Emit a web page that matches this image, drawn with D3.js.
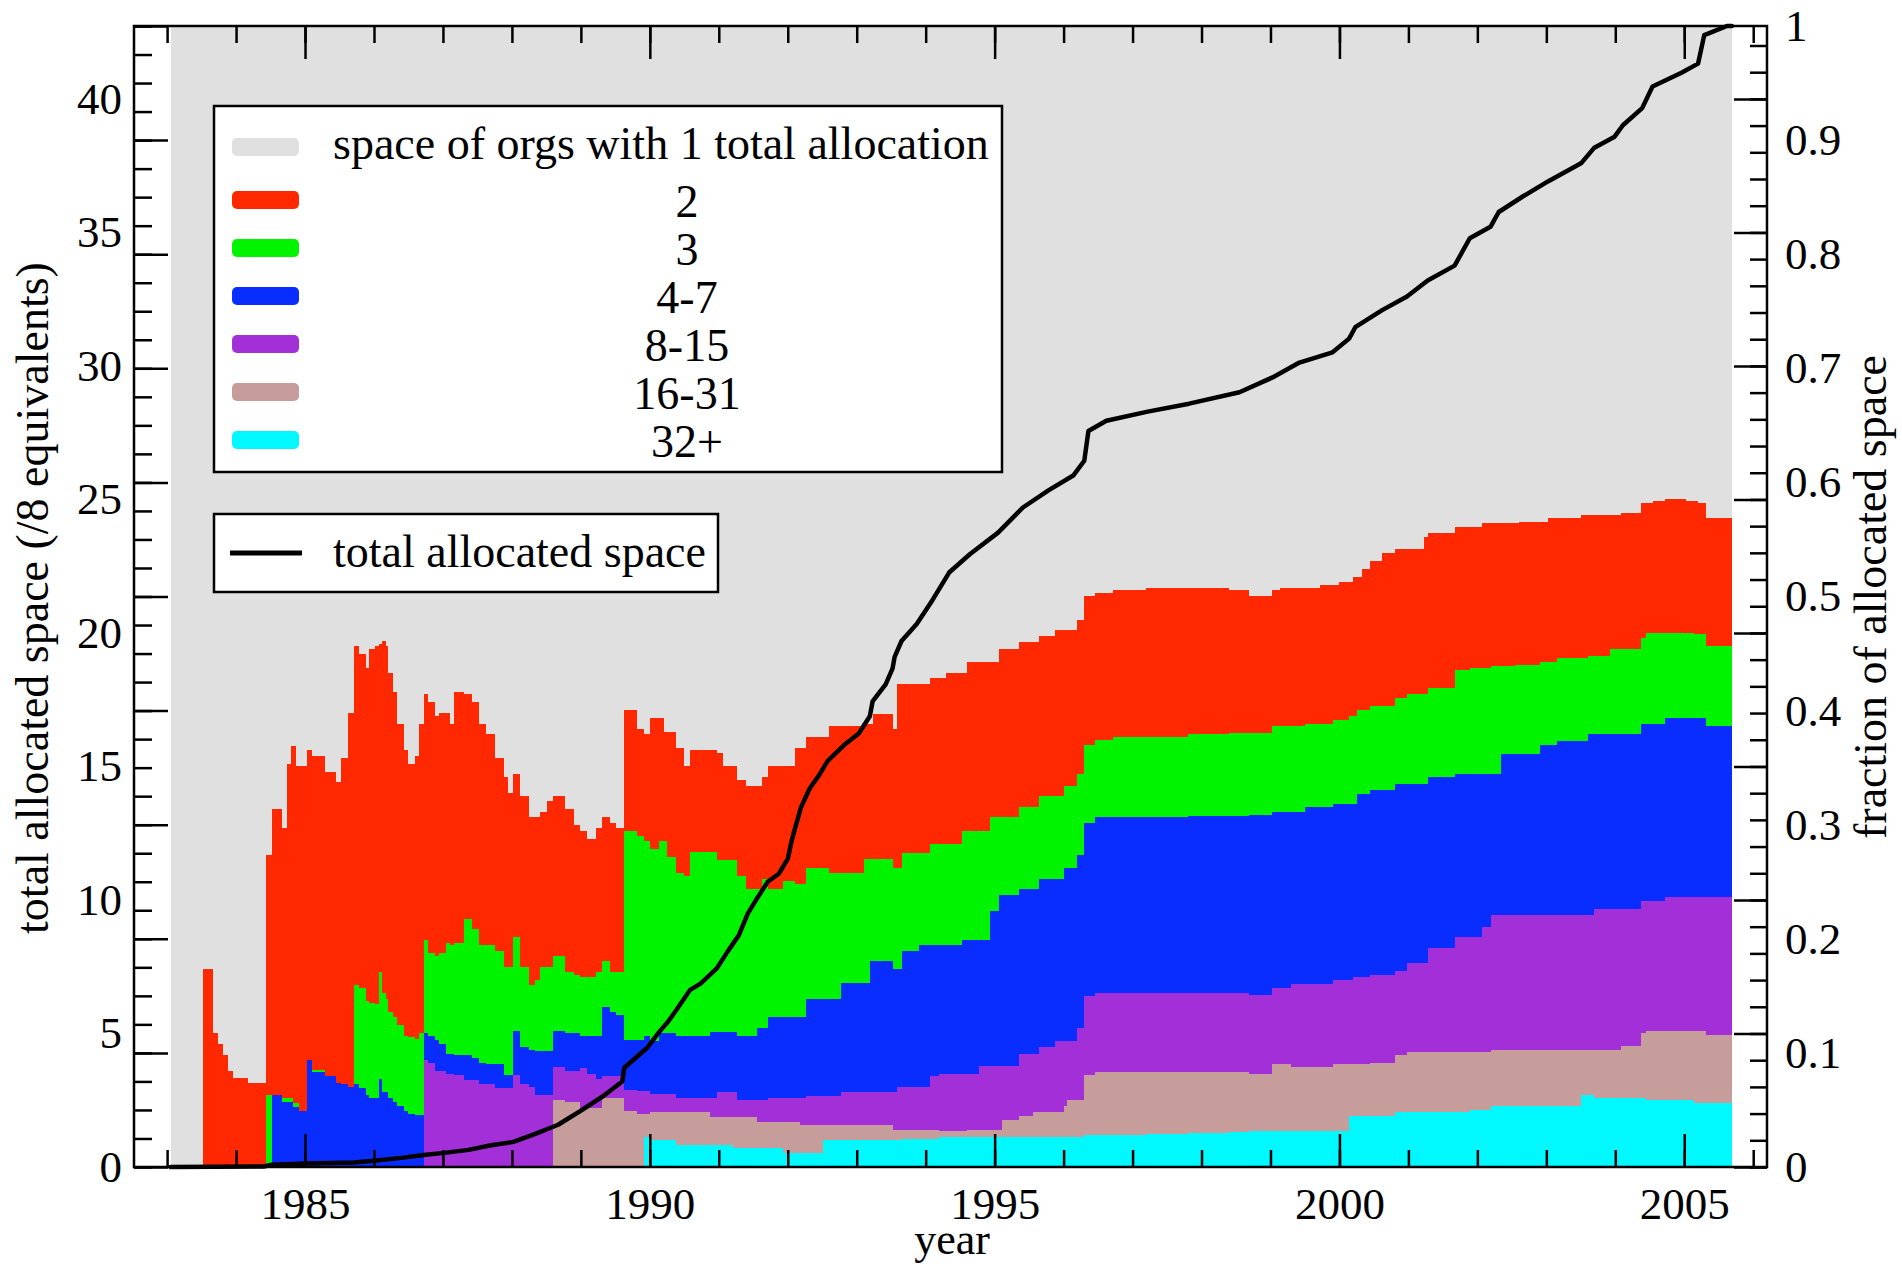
<!DOCTYPE html>
<html><head><meta charset="utf-8">
<script src="https://cdn.jsdelivr.net/npm/d3@7"></script>
<style>
html,body{margin:0;padding:0;background:#fff;}
svg text{font-family:"Liberation Serif","Times New Roman",serif;fill:#000;}
</style></head>
<body>
<svg id="chart" width="1902" height="1266"></svg>
<script>
// ---------- DATA ----------
const years = [1983.05,1983.52,1983.66,1983.74,1983.81,1983.88,1983.96,1984.17,1984.43,1984.52,
 1984.66,1984.74,1984.80,1984.83,1984.87,1984.91,1985.03,1985.10,1985.29,1985.45,
 1985.52,1985.62,1985.71,1985.78,1985.88,1985.93,1986.01,1986.07,1986.12,1986.17,
 1986.20,1986.27,1986.33,1986.43,1986.49,1986.59,1986.66,1986.72,1986.79,1986.88,
 1986.95,1987.05,1987.10,1987.16,1987.31,1987.42,1987.53,1987.63,1987.76,1987.89,
 1987.95,1988.02,1988.12,1988.25,1988.34,1988.41,1988.51,1988.60,1988.77,1988.90,
 1988.99,1989.09,1989.22,1989.30,1989.42,1989.51,1989.63,1989.81,1989.91,1990.00,
 1990.13,1990.20,1990.25,1990.38,1990.50,1990.58,1990.87,1990.97,1991.06,1991.20,
 1991.26,1991.39,1991.55,1991.62,1991.71,1991.93,1992.10,1992.18,1992.26,1992.51,
 1992.60,1992.77,1993.10,1993.19,1993.23,1993.53,1993.58,1993.65,1993.90,1994.06,
 1994.20,1994.30,1994.52,1994.60,1994.77,1994.94,1995.06,1995.10,1995.35,1995.56,
 1995.65,1995.87,1996.00,1996.05,1996.19,1996.30,1996.45,1996.71,1997.20,1997.80,
 1998.40,1998.69,1999.02,1999.14,1999.30,1999.50,1999.72,1999.90,2000.00,2000.14,
 2000.20,2000.26,2000.32,2000.44,2000.62,2000.80,2000.98,2001.22,2001.28,2001.68,
 2001.89,2002.07,2002.20,2002.34,2002.55,2002.61,2002.91,2003.03,2003.15,2003.51,
 2003.60,2003.69,2003.93,2004.08,2004.38,2004.45,2004.54,2004.72,2005.02,2005.14,
 2005.20,2005.32,2005.69];

// space (/8 equivalents) of orgs with 32+ total allocations
const cyan32 = [0,0,0,0,0,0,0,0,0,0, 0,0,0,0,0,0,0,0,0,0, 0,0,0,0,0,0,0,0,0,0,
 0,0,0,0,0,0,0,0,0,0, 0,0,0,0,0,0,0,0,0,0, 0,0,0,0,0,0,0,0,0,0,
 0,0,0,0,0,0,0,0,1.11,1.01, 1.01,1.01,1.01,0.82,0.82,0.82,0.82,0.82,0.82,0.70,
 0.70,0.70,0.70,0.70,0.70,0.51,0.51,0.51,0.51,1.01, 1.01,1.01,1.01,1.01,1.01,1.01,1.01,1.03,1.03,1.03,
 1.11,1.11,1.11,1.11,1.11,1.11,1.11,1.11,1.11,1.11, 1.11,1.11,1.11,1.11,1.11,1.2,1.2,1.2,1.25,1.27,
 1.3,1.35,1.35,1.35,1.35,1.35,1.35,1.35,1.35,1.9, 1.9,1.9,1.9,1.9,1.9,2.05,2.05,2.05,2.05,2.05,
 2.15,2.15,2.3,2.3,2.3,2.3,2.3,2.3,2.3,2.7, 2.7,2.6,2.6,2.6,2.6,2.5,2.5,2.5,2.5,2.4, 2.4,2.4,2.4];
// 16-31 allocations
const rosy16 = [0,0,0,0,0,0,0,0,0,0, 0,0,0,0,0,0,0,0,0,0, 0,0,0,0,0,0,0,0,0,0,
 0,0,0,0,0,0,0,0,0,0, 0,0,0,0,0,0,0,0,0,0, 0,0,0,0,0,0,0,2.5,2.45,2.45,
 2.2,2.2,2.2,2.6,2.6,2.6,2.1,2.0,0.89,1.06, 1.06,1.06,1.06,1.25,1.25,1.25,1.06,1.06,1.06,1.18,
 1.18,1.18,1.0,1.0,1.0,1.19,1.19,1.06,1.06,0.56, 0.56,0.56,0.56,0.56,0.56,0.37,0.37,0.35,0.35,0.35,
 0.22,0.22,0.22,0.27,0.27,0.27,0.27,0.65,0.79,0.96, 0.96,0.96,1.19,1.39,1.39,2.25,2.35,2.35,2.3,2.28,
 2.25,2.15,2.5,2.5,2.4,2.4,2.4,2.5,2.5,1.95, 1.95,1.95,1.95,2.0,2.0,2.15,2.25,2.25,2.25,2.25,
 2.15,2.15,2.1,2.1,2.1,2.1,2.1,2.1,2.1,1.7, 1.7,1.8,1.8,1.95,2.4,2.6,2.6,2.6,2.6,2.7, 2.7,2.55,2.55];
// 8-15 allocations
const purple8 = [0,0,0,0,0,0,0,0,0,0, 0,0,0,0,0,0,0,0,0,0, 0,0,0,0,0,0,0,0,0,0,
 0,0,0,0,0,0,0,4.0,3.9,3.6, 3.6,3.5,3.5,3.45,3.27,3.27,3.1,3.1,2.95,2.95,
 2.95,3.45,3.1,3.0,2.7,2.7,2.7,1.25,1.15,1.15, 1.5,1.3,1.1,0.8,0.8,0.8,0.8,0.85,0.85,0.68,
 0.68,0.68,0.68,0.53,0.53,0.53,0.72,0.92,0.92,0.92, 0.62,0.62,0.8,0.8,0.9,0.9,0.9,1.03,1.08,1.08,
 1.08,1.23,1.23,1.23,1.23,1.42,1.62,1.62,1.62,2.02, 2.17,2.17,2.17,2.12,2.42,2.42,2.42,2.04,2.35,2.18,
 2.43,2.63,2.4,2.2,2.7,2.95,2.95,2.95,2.95,2.95, 2.95,2.95,2.85,2.85,3.1,3.1,3.1,3.15,3.15,3.15,
 3.25,3.25,3.25,3.3,3.3,3.15,3.35,3.35,3.9,4.3, 4.3,4.7,5.05,5.05,5.05,5.05,5.05,5.05,5.05,5.05,
 5.05,5.25,5.25,5.1,4.95,4.85,4.85,5.0,5.0,5.0, 5.0,5.15,5.15];
// 4-7 allocations
const blue4 = [0,0,0,0,0,0,0,0,0,2.7, 2.45,2.45,2.45,2.25,2.25,2.1,4.0,3.55,3.4,3.15,
 3.1,3.0,3.1,2.95,2.7,2.6,2.6,3.3,2.8,2.8, 2.6,2.45,2.3,2.1,2.0,1.95,1.95,1.0,1.0,1.15,
 1.0,0.75,0.75,0.75,0.93,0.83,0.8,0.75,0.9,0.5, 0.5,1.65,1.4,1.4,1.65,1.65,1.65,1.35,1.4,1.4,
 1.2,1.4,1.6,2.6,2.4,2.3,1.85,1.9,2.05,1.95, 2.25,2.25,2.25,2.3,2.3,2.3,2.45,2.25,2.25,2.25,
 2.4,2.4,2.7,2.7,3.0,3.0,3.0,3.0,3.65,3.65, 3.65,4.1,4.1,4.9,4.9,4.6,4.4,5.1,5.3,4.9,
 4.8,4.8,5.0,5.0,4.7,5.8,6.4,6.4,6.15,6.15, 6.3,6.1,6.5,6.5,6.5,6.5,6.6,6.6,6.6,6.65,
 6.65,6.75,6.6,6.6,6.45,6.65,6.65,6.6,6.6,6.6, 6.5,6.85,6.85,6.9,6.9,7.0,6.7,6.7,6.4,6.1,
 6.1,5.7,5.25,6.0,6.0,6.0,6.35,6.35,6.5,6.5, 6.75,6.55,6.55,6.55,6.65,6.65,6.65,6.7,6.7,6.7, 6.7,6.4,6.4];
// 3 allocations
const green3 = [0,0,0,0,0,0,0,0,2.7,0, 0.15,0.15,0.15,0.15,0.15,0,0,0.1,0,0,
 0,0,3.7,3.75,3.5,3.55,3.5,4.0,3.7,3.5, 3.2,3.15,3.0,2.8,2.85,2.85,3.05,3.5,3.1,3.15,
 3.4,4.15,4.05,4.2,5.1,4.8,4.4,4.45,4.25,4.05, 4.05,3.5,3.0,2.4,2.65,3.15,3.15,2.8,2.3,2.2,
 2.2,2.2,2.4,1.7,1.5,1.6,7.85,7.65,7.3,7.2, 7.2,7.2,6.6,6.1,6.0,6.9,6.75,6.45,6.45,6.45,
 6.0,5.5,5.2,5.6,4.8,5.1,5.0,5.0,4.9,4.9, 4.7,4.1,4.65,3.85,3.85,3.8,3.8,3.65,3.45,3.8,
 3.8,3.8,4.1,4.1,4.1,3.5,2.9,2.9,3.1,3.1, 3.1,3.1,3.05,3.05,3.0,2.9,2.9,3.0,3.0,3.05,
 3.1,3.07,3.2,3.2,3.2,3.1,3.1,3.15,3.15,3.3, 3.3,3.15,3.15,3.15,3.15,3.2,3.35,3.35,3.35,3.9,
 4.0,4.0,4.05,3.3,3.35,3.35,3.1,3.1,3.1,3.1, 2.95,2.95,3.2,3.2,3.2,3.4,3.4,3.2,3.2,3.15, 3.15,3.0,3.0];
// 2 allocations
const red2 = [0,7.4,5.0,4.6,4.2,3.6,3.35,3.15,9.0,10.7, 10.1,12.5,13.15,13.35,12.6,12.9,11.6,11.75,11.4,11.25,
 12.2,14.0,12.7,12.5,12.5,13.25,13.4,12.3,13.2,13.2, 12.7,12.2,11.3,10.7,10.25,10.6,11.6,9.2,9.4,9.0,
 9.0,8.6,8.3,9.4,8.4,8.5,8.3,7.9,7.2,7.1, 6.5,6.1,6.4,6.3,6.1,5.8,6.2,6.0,6.1,5.6,
 5.5,5.2,5.4,5.4,5.6,5.4,4.5,4.0,4.0,4.9, 4.6,4.1,4.7,4.7,4.1,3.8,3.8,4.0,3.5,3.5,
 3.6,3.85,3.85,3.8,4.6,4.3,5.1,5.1,4.9,4.9, 5.5,5.5,5.05,5.05,5.4,5.2,6.9,6.35,6.35,6.2,
 6.2,6.4,5.9,6.3,6.3,5.8,6.3,6.3,6.15,6.15, 6.0,6.2,5.85,5.85,5.8,5.6,5.5,5.5,5.6,5.5,
 5.35,5.13,5.1,5.2,5.2,5.1,5.2,5.05,5.15,5.0, 5.2,5.0,5.3,5.45,5.75,5.6,5.45,5.9,5.8,5.35,
 5.25,5.4,5.35,5.35,5.3,5.35,5.25,5.4,5.25,5.35, 5.25,5.25,5.0,5.1,5.05,4.85,4.95,5.0,4.95,5.0, 4.9,4.8,4.8];
// orgs with 1 total allocation: fills the span above the stack (beyond the top of the plot)
const oneAllocSpan = [1983.05, 2005.69];

// total allocated space, as a fraction (right axis)
const lineYears = [1983.05,1984.40,1984.52,1985.03,1985.71,1986.07,1986.40,1986.72,1987.05,1987.37,
 1987.70,1988.02,1988.34,1988.67,1988.99,1989.32,1989.60,1989.63,1989.97,1990.13,
 1990.26,1990.39,1990.58,1990.74,1990.97,1991.13,1991.29,1991.42,1991.55,1991.71,
 1991.87,1992.00,1992.06,1992.19,1992.32,1992.45,1992.58,1992.84,1993.03,1993.19,
 1993.23,1993.42,1993.52,1993.55,1993.65,1993.87,1994.10,1994.34,1994.64,1995.05,
 1995.41,1995.78,1996.14,1996.30,1996.36,1996.62,1997.22,1997.82,1998.55,1999.03,
 1999.42,1999.90,2000.14,2000.23,2000.62,2000.98,2001.28,2001.67,2001.89,2002.19,
 2002.31,2002.67,2003.03,2003.51,2003.69,2003.99,2004.11,2004.39,2004.54,2004.96,
 2005.20,2005.29,2005.62,2005.69];
const lineFrac = [0,0.0005,0.002,0.003,0.004,0.006,0.008,0.0105,0.0126,0.015,
 0.019,0.022,0.029,0.037,0.049,0.062,0.075,0.087,0.105,0.118,
 0.127,0.138,0.155,0.161,0.174,0.189,0.203,0.222,0.235,0.250,
 0.257,0.270,0.287,0.315,0.332,0.343,0.356,0.371,0.380,0.395,
 0.408,0.423,0.437,0.447,0.461,0.476,0.497,0.521,0.537,0.556,
 0.578,0.593,0.606,0.619,0.645,0.654,0.662,0.669,0.679,0.692,
 0.705,0.714,0.726,0.736,0.751,0.763,0.777,0.790,0.814,0.824,
 0.837,0.851,0.864,0.880,0.893,0.903,0.913,0.928,0.947,0.959,
 0.967,0.992,1.0,1.0];

const xMajorTicks = [1985, 1990, 1995, 2000, 2005];
const leftTickLabels = [0, 5, 10, 15, 20, 25, 30, 35, 40];
const rightTickLabels = [0, 0.1, 0.2, 0.3, 0.4, 0.5, 0.6, 0.7, 0.8, 0.9, 1];
const legendLabels = ["space of orgs with 1 total allocation", "2", "3", "4-7", "8-15", "16-31", "32+"];
const lineLegendLabel = "total allocated space";

// ---------- LAYOUT ----------
const plot = {left: 134, right: 1767, top: 26, bottom: 1167};
const colors = {one: "#e0e0e0", c2: "#ff2800", c3: "#00f400", c4: "#0a2dff",
                c8: "#a22fd8", c16: "#c69d9a", c32: "#00f8ff"};
const FS_TICK = 45, FS_TEXT = 46;
const FONT = '"Liberation Serif","Times New Roman",serif';

const svg = d3.select("#chart");
const x = d3.scaleLinear().domain([1982.52, 2006.2]).range([plot.left, plot.right]);
const yL = d3.scaleLinear().domain([0, 42.73]).range([plot.bottom, plot.top]);
const yR = d3.scaleLinear().domain([0, 1]).range([plot.bottom, plot.top]);

// gray: orgs with a single allocation (extends beyond the plot top)
svg.append("path")
  .datum(oneAllocSpan)
  .attr("fill", colors.one)
  .attr("shape-rendering", "crispEdges")
  .attr("d", d3.area().x(d => x(d)).y0(yL(0)).y1(yL(yL.domain()[1])));

// stacked layers
const keys = ["c32", "c16", "c8", "c4", "c3", "c2"];
const rows = years.map((t, i) => ({year: t, c32: cyan32[i], c16: rosy16[i], c8: purple8[i],
  c4: blue4[i], c3: green3[i], c2: red2[i]}));
const stacked = d3.stack().keys(keys)(rows);
const area = d3.area().curve(d3.curveStepAfter)
  .x(d => x(d.data.year)).y0(d => yL(d[0])).y1(d => yL(d[1]));
svg.append("g").selectAll("path").data(stacked).join("path")
  .attr("fill", d => colors[d.key])
  .attr("shape-rendering", "crispEdges")
  .attr("d", area);

// total allocated space line (right axis)
const linePts = lineYears.map((t, i) => [t, lineFrac[i]]);
svg.append("path").datum(linePts)
  .attr("fill", "none").attr("stroke", "#000").attr("stroke-width", 4.5)
  .attr("stroke-linejoin", "round").attr("stroke-linecap", "round")
  .attr("d", d3.line().x(d => x(d[0])).y(d => yR(d[1])));

// ---------- AXES ----------
function axisG(gen, tr) {
  const g = svg.append("g").attr("transform", tr).call(gen);
  g.select(".domain").remove();
  g.selectAll(".tick line").attr("stroke", "#000").attr("stroke-width", 2.5);
  g.attr("font-family", FONT).attr("font-size", FS_TICK);
  g.selectAll("text").attr("fill", "#000");
  return g;
}
const yearMinor = d3.range(1983, 2007);
// bottom
axisG(d3.axisBottom(x).tickValues(yearMinor).tickSize(-17).tickFormat(""), `translate(0,${plot.bottom})`);
axisG(d3.axisBottom(x).tickValues(xMajorTicks).tickSize(-33).tickPadding(20).tickFormat(d3.format("d")),
  `translate(0,${plot.bottom})`);
// top
axisG(d3.axisTop(x).tickValues(yearMinor).tickSize(-17).tickFormat(""), `translate(0,${plot.top})`);
axisG(d3.axisTop(x).tickValues(xMajorTicks).tickSize(-33).tickFormat(""), `translate(0,${plot.top})`);
// left frame: ticks of fraction scale, labels of space scale
axisG(d3.axisLeft(yR).tickValues(d3.range(0, 41).map(i => i * 0.025)).tickSize(-18).tickFormat(""),
  `translate(${plot.left},0)`);
axisG(d3.axisLeft(yR).tickValues(d3.range(0, 11).map(i => i / 10)).tickSize(-34).tickFormat(""),
  `translate(${plot.left},0)`);
axisG(d3.axisLeft(yL).tickValues(leftTickLabels).tickSize(0).tickPadding(12), `translate(${plot.left},0)`);
// right frame: ticks of space scale, labels of fraction scale
axisG(d3.axisRight(yL).tickValues(d3.range(0, 43)).tickSize(-17).tickFormat(""), `translate(${plot.right},0)`);
axisG(d3.axisRight(yL).tickValues(d3.range(0, 41, 5)).tickSize(-33).tickFormat(""), `translate(${plot.right},0)`);
axisG(d3.axisRight(yR).tickValues(rightTickLabels).tickSize(0).tickPadding(18).tickFormat(d => String(d)),
  `translate(${plot.right},0)`);

// frame
svg.append("rect").attr("x", plot.left).attr("y", plot.top)
  .attr("width", plot.right - plot.left).attr("height", plot.bottom - plot.top)
  .attr("fill", "none").attr("stroke", "#000").attr("stroke-width", 2.5);

// axis titles
svg.append("text").attr("transform", "translate(48,598) rotate(-90)")
  .attr("text-anchor", "middle").attr("font-size", FS_TEXT).text("total allocated space (/8 equivalents)");
svg.append("text").attr("transform", "translate(1886,597) rotate(-90)")
  .attr("text-anchor", "middle").attr("font-size", FS_TEXT).text("fraction of allocated space");
svg.append("text").attr("x", 952).attr("y", 1254)
  .attr("text-anchor", "middle").attr("font-size", 44).text("year");

// ---------- LEGENDS ----------
const leg = svg.append("g");
leg.append("rect").attr("x", 214).attr("y", 106).attr("width", 788).attr("height", 366)
  .attr("fill", "#fff").attr("stroke", "#000").attr("stroke-width", 2.5);
const legColors = [colors.one, colors.c2, colors.c3, colors.c4, colors.c8, colors.c16, colors.c32];
const legY = [147, 200, 248, 296, 344, 392, 440];
legendLabels.forEach((lab, i) => {
  leg.append("rect").attr("x", 232).attr("y", legY[i] - 9).attr("width", 67).attr("height", 18)
    .attr("rx", 5).attr("fill", legColors[i]);
  const t = leg.append("text").attr("font-size", FS_TEXT).text(lab);
  if (i === 0) t.attr("x", 333).attr("y", legY[i] + 12);
  else t.attr("x", 687).attr("y", legY[i] + 17).attr("text-anchor", "middle");
});
const leg2 = svg.append("g");
leg2.append("rect").attr("x", 214).attr("y", 514).attr("width", 504).attr("height", 78)
  .attr("fill", "#fff").attr("stroke", "#000").attr("stroke-width", 2.5);
leg2.append("line").attr("x1", 230).attr("x2", 302).attr("y1", 553).attr("y2", 553)
  .attr("stroke", "#000").attr("stroke-width", 5);
leg2.append("text").attr("x", 333).attr("y", 567).attr("font-size", FS_TEXT).text(lineLegendLabel);
</script>
</body></html>
